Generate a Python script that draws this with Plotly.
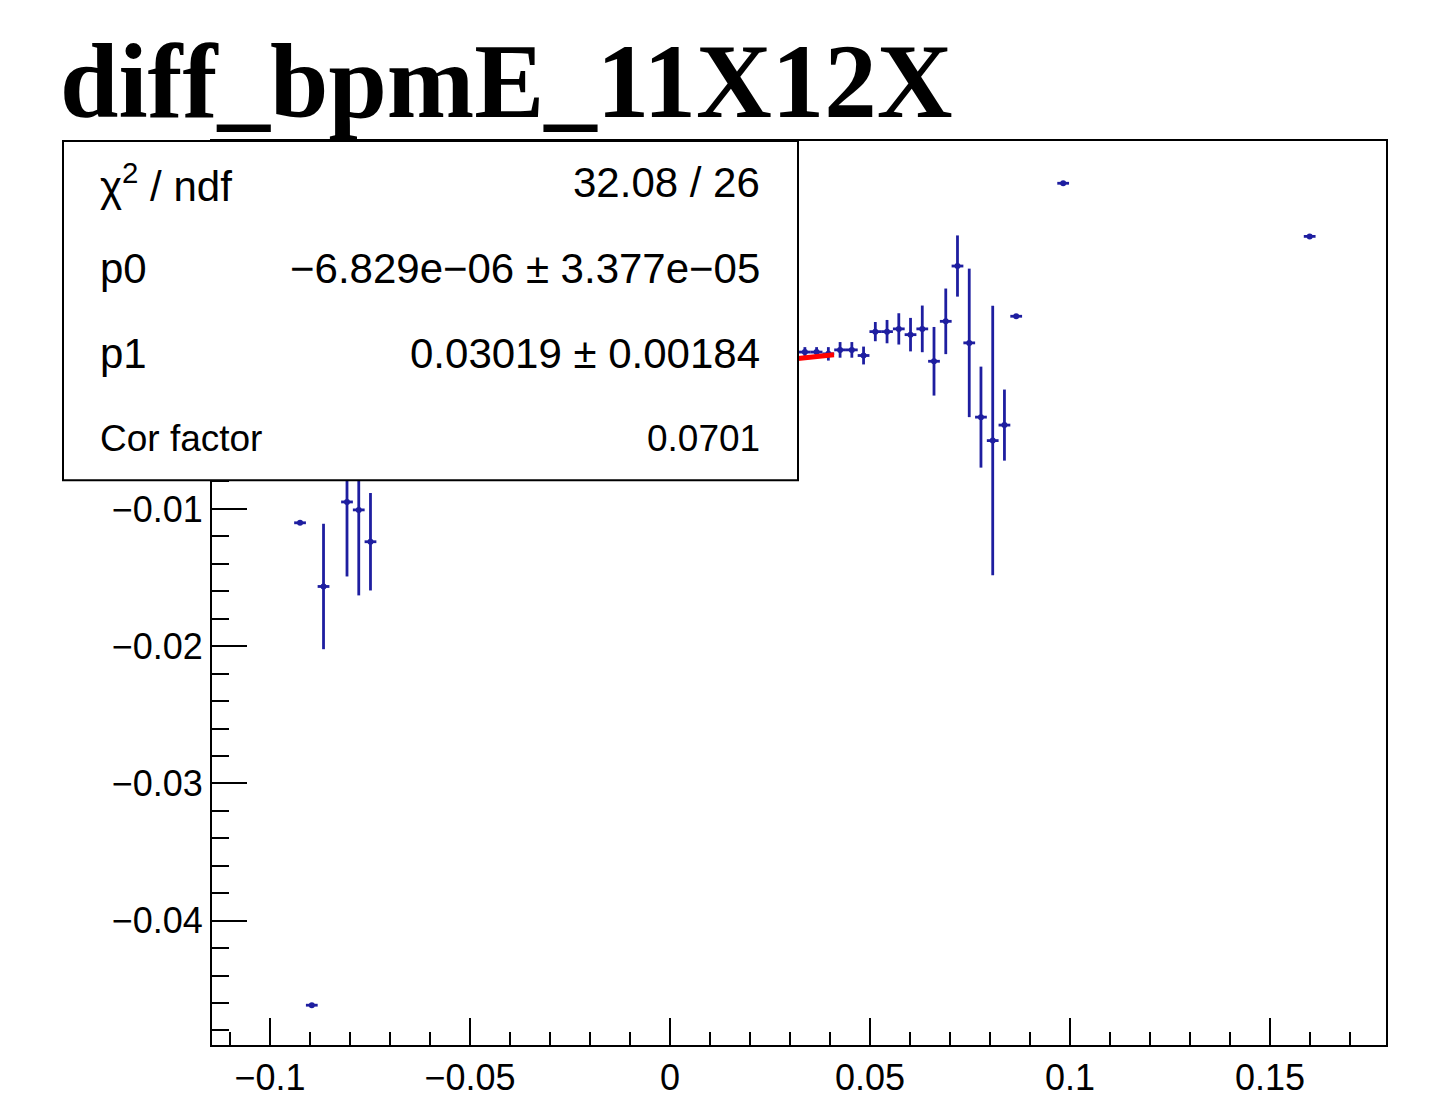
import plotly.graph_objects as go

# ---- data ----
bin_x = [-0.09249, -0.08955, -0.08662, -0.08075, -0.07781, -0.07488,
         0.03372, 0.03665, 0.03959, 0.04252, 0.04546, 0.04839,
         0.05133, 0.05426, 0.05720, 0.06013, 0.06307, 0.06600,
         0.06894, 0.07187, 0.07481, 0.07774, 0.08068, 0.08361,
         0.08655, 0.09829, 0.15992]
bin_y = [-0.01101, -0.04616, -0.01565, -0.00949, -0.01007, -0.01239,
         0.00143, 0.00143, 0.00130, 0.00159, 0.00159, 0.00118,
         0.00292, 0.00292, 0.00312, 0.00270, 0.00312, 0.00076,
         0.00367, 0.00770, 0.00210, -0.00331, -0.00502, -0.00389,
         0.00404, 0.01373, 0.00986]
bin_yerr = [0.0, 0.0, 0.00457, 0.00543, 0.00623, 0.00355,
            0.00036, 0.00036, 0.00049, 0.00057, 0.00057, 0.00065,
            0.00070, 0.00085, 0.00114, 0.00122, 0.00170, 0.00250,
            0.00239, 0.00223, 0.00541, 0.00368, 0.00982, 0.00259,
            0.0, 0.0, 0.0]
bin_half_width = 0.00147

p0 = -6.829e-06
p1 = 0.03019
fit_range = [-0.041, 0.041]

stat_labels = ["χ<sup>2</sup> / ndf", "p0", "p1", "Cor factor"]
stat_values = ["32.08 / 26", "−6.829e−06 ± 3.377e−05", "0.03019 ± 0.00184", "0.0701"]

title_text = "diff_bpmE_11X12X"

x_range = [-0.1145, 0.1790]
y_range = [-0.04906, 0.01681]

# ---- figure ----
blue = "#1e1ea0"
fig = go.Figure()
fig.add_trace(go.Scatter(
    x=bin_x, y=bin_y, mode="markers",
    marker=dict(size=0, color=blue),
    error_y=dict(type="data", array=bin_yerr, visible=True, width=0, thickness=2.8, color=blue),
    error_x=dict(type="data", array=[bin_half_width] * len(bin_x), visible=True, width=0,
                 thickness=2.8, color=blue),
    showlegend=False, hoverinfo="skip"))

fit_y = [p0 + p1 * xv for xv in fit_range]
fig.add_trace(go.Scatter(x=fit_range, y=fit_y, mode="lines",
                         line=dict(color="#ff0000", width=5),
                         showlegend=False, hoverinfo="skip"))

W, H = 1439, 1110
L, T = 212, 141
R = W - 1386
B = H - 1052
pw, ph = W - L - R, H - T - B

def px2paper_x(px):
    return (px - L) / pw

def px2paper_y(py):
    return 1 - (py - T) / ph

tick_font = dict(family="Liberation Sans, Arial, sans-serif", size=36, color="black")

fig.update_layout(
    width=W, height=H,
    margin=dict(l=L, r=R, t=T, b=B, pad=0),
    paper_bgcolor="white", plot_bgcolor="white",
    xaxis=dict(range=x_range, showgrid=False, zeroline=False,
               showline=True, linecolor="black", linewidth=2, mirror=True,
               ticks="inside", ticklen=27, tickwidth=2, tickcolor="black",
               tick0=0, dtick=0.05, tickfont=tick_font,
               minor=dict(ticks="inside", ticklen=13, tickwidth=2, tickcolor="black",
                          tick0=0, dtick=0.01, showgrid=False)),
    yaxis=dict(range=y_range, showgrid=False, zeroline=False,
               showline=True, linecolor="black", linewidth=2, mirror=True,
               ticks="inside", ticklen=35, tickwidth=2, tickcolor="black",
               tick0=0, dtick=0.01, tickfont=tick_font,
               minor=dict(ticks="inside", ticklen=17, tickwidth=2, tickcolor="black",
                          tick0=0, dtick=0.002, showgrid=False)),
)

# stats box (opaque, drawn above the plot)
fig.add_shape(type="rect", xref="paper", yref="paper",
              x0=px2paper_x(63), x1=px2paper_x(798), y0=px2paper_y(483), y1=px2paper_y(141),
              fillcolor="white", line=dict(color="black", width=2), layer="above")

row_y = [183, 269, 355, 441]
row_size = [42, 42, 42, 37]
for lab, val, ry, fs in zip(stat_labels, stat_values, row_y, row_size):
    f = dict(family="Liberation Sans, Arial, sans-serif", size=fs, color="black")
    fig.add_annotation(text=lab, xref="paper", yref="paper", x=px2paper_x(98), y=px2paper_y(ry),
                       xanchor="left", yanchor="middle", showarrow=False, font=f)
    fig.add_annotation(text=val, xref="paper", yref="paper", x=px2paper_x(762), y=px2paper_y(ry),
                       xanchor="right", yanchor="middle", showarrow=False, font=f)

fig.add_annotation(text="<b>" + title_text + "</b>", xref="paper", yref="paper",
                   x=px2paper_x(58), y=px2paper_y(81), xanchor="left", yanchor="middle",
                   showarrow=False,
                   font=dict(family="Liberation Serif, Times New Roman, serif", size=105, color="black"))

fig.write_html("out.html", config={"displayModeBar": False},
               post_script="document.body.style.margin='0px';document.body.style.overflow='hidden';")
